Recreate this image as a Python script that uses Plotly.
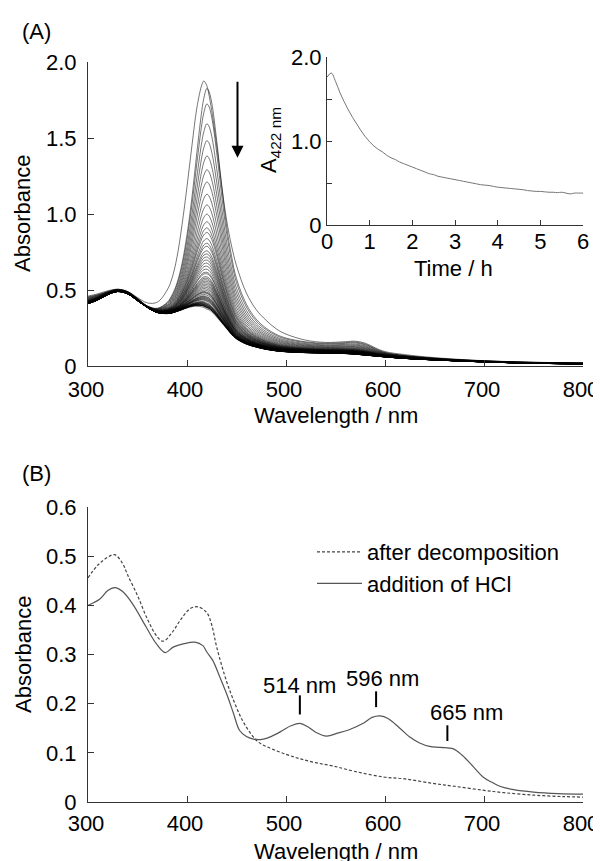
import plotly.graph_objects as go

# ---------------- data ----------------
# Panel A: reference spectra (first scan, scan with max A422, last scan)
wl_A = [300, 310, 320, 330, 340, 350, 360, 370, 380, 385, 390, 395, 400, 405, 410, 415, 417,
        420, 422, 425, 430, 435, 440, 445, 450, 460, 470, 480, 490, 500, 520, 540, 560, 570,
        580, 590, 600, 620, 650, 700, 750, 800]
spec_first = [0.46, 0.475, 0.495, 0.505, 0.49, 0.45, 0.415, 0.42, 0.50, 0.58, 0.72, 0.93, 1.18,
              1.45, 1.70, 1.85, 1.875, 1.845, 1.79, 1.68, 1.45, 1.19, 0.96, 0.79, 0.66, 0.48,
              0.37, 0.30, 0.245, 0.21, 0.17, 0.155, 0.16, 0.163, 0.15, 0.12, 0.095, 0.075,
              0.055, 0.035, 0.025, 0.02]
spec_max = [0.455, 0.47, 0.49, 0.505, 0.49, 0.445, 0.395, 0.38, 0.42, 0.47, 0.55, 0.68, 0.87,
            1.12, 1.42, 1.70, 1.78, 1.845, 1.83, 1.75, 1.50, 1.20, 0.93, 0.73, 0.58, 0.41,
            0.31, 0.25, 0.21, 0.185, 0.16, 0.15, 0.155, 0.158, 0.145, 0.115, 0.09, 0.07,
            0.052, 0.034, 0.024, 0.02]
spec_last = [0.41, 0.435, 0.47, 0.49, 0.475, 0.43, 0.385, 0.352, 0.345, 0.35, 0.36, 0.372,
             0.385, 0.395, 0.40, 0.398, 0.395, 0.385, 0.38, 0.365, 0.33, 0.29, 0.25, 0.21,
             0.18, 0.145, 0.125, 0.11, 0.10, 0.094, 0.088, 0.085, 0.082, 0.078, 0.072,
             0.066, 0.06, 0.05, 0.04, 0.027, 0.018, 0.014]

# Inset: absorbance at 422 nm vs time (h)
time_h = [0.0, 0.1, 0.2, 0.3, 0.4, 0.5, 0.6, 0.7, 0.8, 0.9, 1.0, 1.1, 1.2, 1.3, 1.4, 1.5, 1.6,
          1.7, 1.8, 1.9, 2.0, 2.1, 2.2, 2.3, 2.4, 2.5, 2.6, 2.7, 2.8, 2.9, 3.0, 3.1, 3.2, 3.3,
          3.4, 3.5, 3.6, 3.7, 3.8, 3.9, 4.0, 4.1, 4.2, 4.3, 4.4, 4.5, 4.6, 4.7, 4.8, 4.9, 5.0,
          5.1, 5.2, 5.3, 5.4, 5.5, 5.6, 5.7, 5.8, 5.9, 6.0]
a422 = [1.76, 1.81, 1.71, 1.58, 1.47, 1.37, 1.28, 1.20, 1.12, 1.05, 0.99, 0.94, 0.90, 0.87,
        0.83, 0.80, 0.78, 0.75, 0.73, 0.71, 0.69, 0.67, 0.65, 0.63, 0.61, 0.60, 0.58, 0.57,
        0.56, 0.55, 0.54, 0.53, 0.52, 0.51, 0.50, 0.49, 0.48, 0.475, 0.47, 0.46, 0.45, 0.445,
        0.44, 0.435, 0.43, 0.425, 0.42, 0.41, 0.405, 0.40, 0.40, 0.395, 0.39, 0.39, 0.385,
        0.39, 0.38, 0.37, 0.38, 0.38, 0.38]

# Panel B
wl_decomp = [300, 310, 320, 327, 335, 340, 350, 360, 370, 376, 385, 393, 403, 411, 420, 425,
             430, 440, 447, 455, 464, 472, 481, 500, 514, 530, 548, 570, 598, 620, 648, 670,
             699, 720, 750, 780, 800]
abs_decomp = [0.456, 0.482, 0.498, 0.503, 0.485, 0.462, 0.42, 0.372, 0.336, 0.327, 0.345,
              0.369, 0.393, 0.397, 0.385, 0.36, 0.315, 0.245, 0.207, 0.17, 0.14, 0.122, 0.112,
              0.097, 0.088, 0.08, 0.073, 0.062, 0.051, 0.047, 0.038, 0.032, 0.024, 0.019,
              0.014, 0.011, 0.01]
wl_hcl = [300, 312, 320, 327, 335, 345, 359, 369, 378, 386, 397, 408, 416, 420, 426, 433, 440,
          447, 453, 460, 467, 474, 481, 490, 497, 505, 514, 522, 530, 541, 552, 565, 578, 587,
          595, 603, 615, 625, 635, 645, 656, 669, 678, 690, 699, 708, 716, 730, 750, 775, 800]
abs_hcl = [0.40, 0.413, 0.43, 0.436, 0.428, 0.403, 0.355, 0.322, 0.304, 0.315, 0.322, 0.325,
           0.318, 0.305, 0.288, 0.255, 0.22, 0.18, 0.146, 0.133, 0.128, 0.127, 0.13, 0.138,
           0.146, 0.155, 0.16, 0.153, 0.142, 0.134, 0.14, 0.148, 0.16, 0.172, 0.175, 0.17,
           0.15, 0.132, 0.12, 0.113, 0.111, 0.108, 0.095, 0.07, 0.051, 0.04, 0.032, 0.025,
           0.02, 0.017, 0.016]
peak_nm = [514, 596, 665]
peak_text = ["514 nm", "596 nm", "665 nm"]

# ---------------- layout helpers ----------------
W, H = 601, 861
OFF = 8  # the page body has an 8 px default margin; positions below are window pixels
def fx(px):
    return (px - OFF) / W
def fy(py):
    return 1 - (py - OFF) / H

FONT = "Liberation Sans, Arial, Helvetica, sans-serif"
FS = 22
AX = "#333333"

fig = go.Figure()

# Panel A spectra: first scan, then scans that evolve between the max and final spectra
LINE_A = dict(color="rgba(0,0,0,0.6)", width=0.9, shape="spline")
i422 = wl_A.index(422)
amax, alast = spec_max[i422], spec_last[i422]
fig.add_trace(go.Scatter(x=wl_A, y=spec_first, mode="lines", line=LINE_A,
                         showlegend=False, xaxis="x", yaxis="y", hoverinfo="skip"))
for a in a422[1:]:
    w = (a - alast) / (amax - alast)
    ys = [l + w * (m - l) for m, l in zip(spec_max, spec_last)]
    fig.add_trace(go.Scatter(x=wl_A, y=ys, mode="lines", line=LINE_A,
                             showlegend=False, xaxis="x", yaxis="y", hoverinfo="skip"))

# Inset
fig.add_trace(go.Scatter(x=time_h, y=a422, mode="lines", line=dict(color="#777777", width=1, shape="spline"),
                         showlegend=False, xaxis="x2", yaxis="y2"))

# Panel B
fig.add_trace(go.Scatter(x=wl_decomp, y=abs_decomp, mode="lines", name="after decomposition",
                         line=dict(color="#444444", width=1.2, dash="3px,2px", shape="spline"),
                         xaxis="x3", yaxis="y3"))
fig.add_trace(go.Scatter(x=wl_hcl, y=abs_hcl, mode="lines", name="addition of HCl",
                         line=dict(color="#555555", width=1.2, shape="spline"),
                         xaxis="x3", yaxis="y3"))

def axis(domain, rng, tickvals, ticktext, anchor, standoff, ticklen=6, minor=None, shift=0):
    d = dict(domain=domain, range=rng, tickvals=tickvals, ticktext=ticktext, anchor=anchor,
             showline=True, linecolor=AX, linewidth=1, ticks="inside", ticklen=ticklen,
             tickcolor=AX, tickwidth=1, showgrid=False, zeroline=False, mirror=False,
             automargin=False, ticklabelshift=shift,
             tickfont=dict(family=FONT, size=FS, color="black"), ticklabelstandoff=standoff)
    if minor is not None:
        d["minor"] = dict(tickvals=minor, ticks="inside", ticklen=ticklen, tickcolor=AX, showgrid=False)
    return d

xdom = [fx(88), fx(583)]
wl_ticks = [300, 400, 500, 600, 700, 800]
wl_text = [str(v) for v in wl_ticks]

fig.update_layout(
    template="none",
    width=W, height=H, margin=dict(l=0, r=0, t=0, b=0, autoexpand=False),
    paper_bgcolor="white", plot_bgcolor="rgba(0,0,0,0)",
    font=dict(family=FONT, size=FS, color="black"),
    xaxis=axis(xdom, [300, 800], wl_ticks, wl_text, "y", 4, shift=-2),
    yaxis=axis([fy(366), fy(62)], [0, 2], [0, 0.5, 1, 1.5, 2], ["0", "0.5", "1.0", "1.5", "2.0"], "x", 6),
    xaxis2=axis([fx(327), fx(583)], [0, 6], [0, 1, 2, 3, 4, 5, 6], ["0", "1", "2", "3", "4", "5", "6"], "y2", -3, 5),
    yaxis2=axis([fy(225), fy(57)], [0, 2], [0, 1, 2], ["0", "1.0", "2.0"], "x2", 0, 5, minor=[0.5, 1.5]),
    xaxis3=axis(xdom, [300, 800], wl_ticks, wl_text, "y3", 2, shift=-2),
    yaxis3=axis([fy(802), fy(507)], [0, 0.6], [0, 0.1, 0.2, 0.3, 0.4, 0.5, 0.6],
                ["0", "0.1", "0.2", "0.3", "0.4", "0.5", "0.6"], "x3", 6),
    legend=dict(x=fx(312), y=fy(531), xanchor="left", yanchor="top", bgcolor="rgba(0,0,0,0)",
                borderwidth=0,
                font=dict(family=FONT, size=FS, color="black"), itemwidth=45, tracegroupgap=0),
    showlegend=True,
)

ann = []
def txt(x, y, s, angle=0, xanchor="center"):
    ann.append(dict(x=x, y=y, xref="paper", yref="paper", text=s, showarrow=False, textangle=angle,
                    xanchor=xanchor, yanchor="middle", font=dict(family=FONT, size=FS, color="black")))

txt(fx(20), fy(32), "(A)", xanchor="left")
txt(fx(20), fy(473), "(B)", xanchor="left")
txt(fx(22), fy(214), "Absorbance", angle=-90)
txt(fx(335.5), fy(415), "Wavelength / nm")
txt(fx(453), fy(269), "Time / h")
txt(fx(270), fy(140), "A<sub>422 nm</sub>", angle=-90)
txt(fx(23), fy(655), "Absorbance", angle=-90)
txt(fx(335.5), fy(851), "Wavelength / nm")

# arrow in panel A
ann.append(dict(x=451, y=1.37, ax=451, ay=1.88, xref="x", yref="y", axref="x", ayref="y",
                text="", showarrow=True, arrowhead=2, arrowsize=1.2, arrowwidth=2, arrowcolor="black"))

# peak labels in panel B
label_y = [0.237, 0.251, 0.183]
label_dx = [0, 1, 17]
tick_dx = [0, -5, -2]
tick_y0 = [0.178, 0.193, 0.124]
tick_y1 = [0.217, 0.225, 0.156]
shapes = []
for nm, s, ly, ldx, tdx, y0, y1 in zip(peak_nm, peak_text, label_y, label_dx, tick_dx, tick_y0, tick_y1):
    ann.append(dict(x=nm + ldx, y=ly, xref="x3", yref="y3", text=s, showarrow=False,
                    xanchor="center", yanchor="middle", font=dict(family=FONT, size=FS, color="black")))
    shapes.append(dict(type="line", xref="x3", yref="y3", x0=nm + tdx, x1=nm + tdx, y0=y0, y1=y1,
                       line=dict(color="black", width=2)))

fig.update_layout(annotations=ann, shapes=shapes)
fig.write_html("out.html")
